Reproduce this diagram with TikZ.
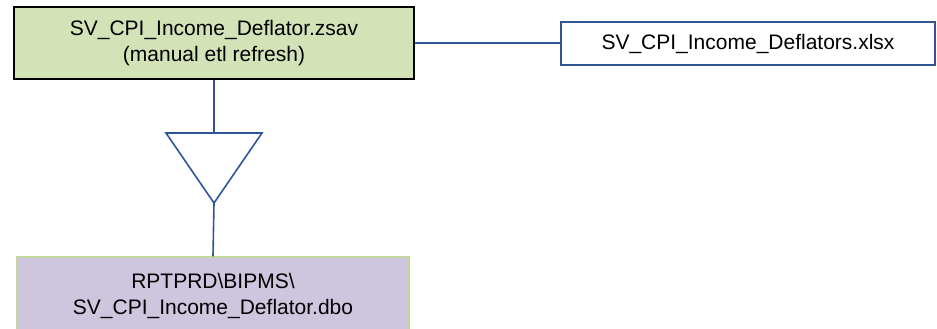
\documentclass[tikz,border=0pt]{standalone}
\usepackage{fontspec}
\setmainfont{Liberation Sans}
\definecolor{boxgreen}{RGB}{212,226,184}
\definecolor{boxpurple}{RGB}{206,198,222}
\definecolor{edgegreen}{RGB}{195,214,155}
\definecolor{linkblue}{RGB}{47,85,151}
\begin{document}
\begin{tikzpicture}[x=1pt,y=-1pt,
  txt/.style={font=\fontsize{21}{26.5}\selectfont, align=center, inner sep=0pt},
  link/.style={draw=linkblue, line width=1.8pt}]
\useasboundingbox (0,0) rectangle (937,329);
\node[txt, draw=black, line width=2pt, fill=boxgreen, minimum width=400, minimum height=72] (zsav) at (214,43)
  {SV\_CPI\_Income\_Deflator.zsav\\(manual etl refresh)};
\node[txt, draw=linkblue, line width=1.6pt, fill=white, minimum width=374, minimum height=42.5] (xlsx) at (748,43.5)
  {SV\_CPI\_Income\_Deflators.xlsx};
\node[txt, draw=edgegreen, line width=1.5pt, fill=boxpurple, minimum width=392, minimum height=78] (dbo) at (213,296)
  {RPTPRD\textbackslash BIPMS\textbackslash\\SV\_CPI\_Income\_Deflator.dbo};
\coordinate (tritop) at (214,133);
\coordinate (trileft) at (166,133);
\coordinate (triright) at (262,133);
\coordinate (triapex) at (214,203);
\coordinate (joinpt) at (zsav.east |- 0,43);
\draw[link, line width=1.6pt, line join=miter] (trileft) -- (triright) -- (triapex) -- cycle;
\draw[link] (joinpt) -- (joinpt -| xlsx.west);
\draw[link, line width=1.6pt] (zsav.south) -- (tritop);
\draw[link, line width=1.6pt] (triapex) -- (dbo.north);
\end{tikzpicture}
\end{document}
